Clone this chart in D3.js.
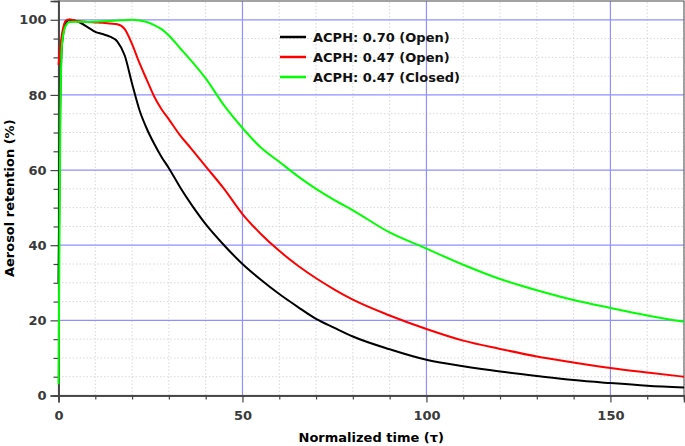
<!DOCTYPE html>
<html><head><meta charset="utf-8">
<script src="https://cdn.jsdelivr.net/npm/d3@7"></script>
<style>html,body{margin:0;padding:0;background:#fff;} svg{display:block;font-family:"DejaVu Sans",sans-serif;}</style>
</head><body>
<svg id="chart" width="685" height="446"></svg>
<script>
const timeGrid = [0,0.5,1,2,3,5,8,10,12,14,16,18,20,22,24,26,28,30,33,36,40,45,50,55,60,65,70,75,80,90,100,110,120,130,140,150,160,170];
const acph070Open = [30,80,94,99,100,99.6,98,96.8,96.2,95.5,94.2,90.5,83,76,71,67,63.5,60.5,55.5,51,45.6,40,35,30.8,27,23.6,20.4,18,15.7,12.3,9.5,7.8,6.4,5.2,4.1,3.3,2.6,2.1];
const acph047Open = [88,93,96.5,99.8,100.1,99.7,99.4,99.3,99.2,99.0,98.8,97.5,93.5,88.5,84,79.6,76.2,73.5,69.3,65.8,61,55,48.3,43,38.5,34.6,31.2,28.2,25.5,21.3,17.7,14.6,12.4,10.4,8.8,7.3,6.1,5.0];
const acph047Closed = [3,75,94,98.5,99.4,99.5,99.4,99.5,99.6,99.7,99.8,99.9,100,99.8,99.4,98.6,97.5,95.8,92.5,89.2,84.4,77.2,71.2,66,62.2,58.4,55,52,49.3,43.4,39.1,34.8,31.0,28.0,25.4,23.3,21.3,19.6];
const seriesNames = ["ACPH: 0.70 (Open)","ACPH: 0.47 (Open)","ACPH: 0.47 (Closed)"];
const seriesColors = ["#000000","#ff0000","#00ff00"];
const xMajorTicks = [0,50,100,150];
const yMajorTicks = [0,20,40,60,80,100];
const xLabel = "Normalized time (τ)";
const yLabel = "Aerosol retention (%)";

const svg = d3.select("#chart");
const W = 685, H = 446;
const m = {left:58.5, right:1, top:1, bottom:50.5};
const x = d3.scaleLinear().domain([0,170]).range([m.left, W - m.right]);
const y = d3.scaleLinear().domain([0,105]).range([H - m.bottom, m.top]);

// minor grid
const xMinor = d3.range(10,171,10).filter(v => v % 50 !== 0);
const yMinor = d3.range(5,105,5).filter(v => v % 20 !== 0);
const g = svg.append("g");
g.selectAll(".xmin").data(xMinor).join("line")
  .attr("x1", d=>x(d)).attr("x2", d=>x(d)).attr("y1", y(0)).attr("y2", y(105))
  .attr("stroke","#d8d8d8").attr("stroke-width",1).attr("stroke-dasharray","1.5,2");
g.selectAll(".ymin").data(yMinor).join("line")
  .attr("x1", x(0)).attr("x2", x(170)).attr("y1", d=>y(d)).attr("y2", d=>y(d))
  .attr("stroke","#d8d8d8").attr("stroke-width",1).attr("stroke-dasharray","1.5,2");
// major grid
g.selectAll(".xmaj").data(xMajorTicks.filter(d=>d>0)).join("line")
  .attr("x1", d=>x(d)).attr("x2", d=>x(d)).attr("y1", y(0)).attr("y2", y(105))
  .attr("stroke","#9090ff").attr("stroke-width",1.2);
g.selectAll(".ymaj").data(yMajorTicks.filter(d=>d>0)).join("line")
  .attr("x1", x(0)).attr("x2", x(170)).attr("y1", d=>y(d)).attr("y2", d=>y(d))
  .attr("stroke","#9090ff").attr("stroke-width",1.2);

// frame
svg.append("rect").attr("x", x(0)).attr("y", y(105)).attr("width", x(170)-x(0)).attr("height", y(0)-y(105))
  .attr("fill","none").attr("stroke","#666").attr("stroke-width",1.2);

// axes
const axisColor = "#444";
const xAxisMinor = svg.append("g").attr("transform",`translate(0,${y(0)})`)
  .call(d3.axisBottom(x).tickValues(xMinor).tickSize(4).tickFormat(""));
const xAxis = svg.append("g").attr("transform",`translate(0,${y(0)})`)
  .call(d3.axisBottom(x).tickValues(xMajorTicks).tickSize(7).tickPadding(8).tickFormat(d3.format("d")));
const yAxisMinor = svg.append("g").attr("transform",`translate(${x(0)},0)`)
  .call(d3.axisLeft(y).tickValues(yMinor).tickSize(5).tickFormat(""));
const yAxis = svg.append("g").attr("transform",`translate(${x(0)},0)`)
  .call(d3.axisLeft(y).tickValues(yMajorTicks).tickSize(8).tickPadding(4).tickFormat(d3.format("d")));
[xAxisMinor,xAxis,yAxisMinor,yAxis].forEach(a=>{
  a.select(".domain").attr("stroke",axisColor).attr("stroke-width",1.5);
  a.selectAll(".tick line").attr("stroke",axisColor).attr("stroke-width",1.2);
  a.selectAll("text").attr("fill","#3a3a3a").attr("font-size",13).attr("font-weight","bold")
    .attr("font-family","DejaVu Sans");
});

// lines
const allSeries = [acph070Open, acph047Open, acph047Closed];
const line = d3.line().x(d=>x(d[0])).y(d=>y(d[1])).curve(d3.curveMonotoneX);
allSeries.forEach((vals,i)=>{
  svg.append("path").datum(timeGrid.map((t,j)=>[t,vals[j]]))
    .attr("d", line).attr("fill","none").attr("stroke", seriesColors[i])
    .attr("stroke-width",2).attr("stroke-linejoin","round");
});

// legend
const leg = svg.append("g");
seriesNames.forEach((n,i)=>{
  const yy = 37 + i*20;
  leg.append("line").attr("x1",280).attr("x2",306).attr("y1",yy).attr("y2",yy)
    .attr("stroke",seriesColors[i]).attr("stroke-width",2.5);
  leg.append("text").attr("x",313).attr("y",yy).attr("dy","0.35em")
    .attr("font-size",13).attr("font-weight","bold").attr("fill","#111").text(n);
});

// axis titles
svg.append("text").attr("x",(x(0)+x(170))/2).attr("y",442).attr("text-anchor","middle")
  .attr("font-size",13).attr("font-weight","bold").attr("fill","#000").text(xLabel);
svg.append("text").attr("transform",`translate(14,${(y(0)+y(105))/2}) rotate(-90)`)
  .attr("text-anchor","middle").attr("font-size",13).attr("font-weight","bold").attr("fill","#000").text(yLabel);
</script>
</body></html>
